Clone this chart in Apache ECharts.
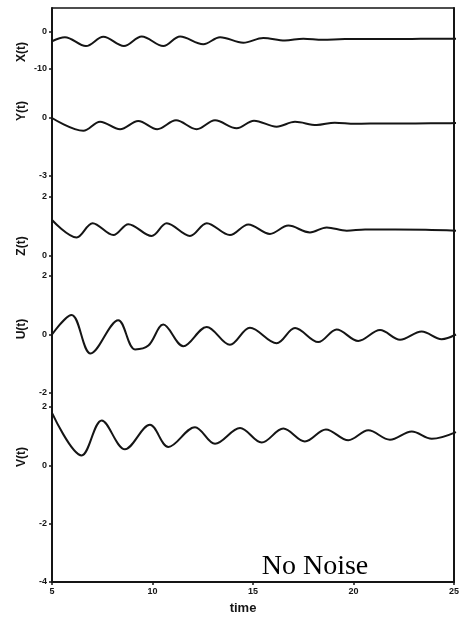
<!DOCTYPE html>
<html>
<head>
<meta charset="utf-8">
<script src="https://cdn.jsdelivr.net/npm/echarts@6/dist/echarts.min.js"></script>
<style>
  html, body { margin: 0; padding: 0; background: #fff; }
  #main { width: 462px; height: 619px; }
</style>
</head>
<body>
<div id="main"></div>
<script>
// time samples and values (peaks, troughs, tails)
var tX = [5, 5.64, 6.68, 7.54, 8.56, 9.44, 10.51, 11.34, 12.49, 13.32, 14.47, 15.46, 16.53, 17.44, 18.4, 19.5, 21, 22.5, 24, 25];
var vX = [-2.5, -1.4, -3.8, -1.3, -3.8, -1.2, -3.8, -1.2, -3.3, -1.4, -2.9, -1.6, -2.3, -1.8, -2.1, -1.9, -1.9, -1.9, -1.8, -1.8];

var tY = [5, 6.55, 7.38, 8.37, 9.27, 10.21, 11.14, 12.16, 13.07, 14.14, 15.0, 16.12, 17.03, 18.1, 19.0, 20, 21.5, 23, 24.5, 25];
var vY = [0, -0.66, -0.19, -0.58, -0.16, -0.58, -0.12, -0.58, -0.12, -0.53, -0.14, -0.45, -0.2, -0.36, -0.24, -0.3, -0.28, -0.28, -0.27, -0.26];

var tZ = [5, 6.22, 7.01, 8.04, 8.78, 9.93, 10.68, 11.83, 12.66, 13.81, 14.72, 15.79, 16.7, 17.77, 18.6, 19.59, 20.5, 22, 23.5, 25];
var vZ = [1.22, 0.63, 1.11, 0.71, 1.08, 0.68, 1.11, 0.68, 1.11, 0.71, 1.07, 0.75, 1.03, 0.8, 0.97, 0.86, 0.9, 0.9, 0.89, 0.86];

var tU = [5, 5.97, 6.91, 8.28, 9.11, 9.77, 10.51, 11.5, 12.66, 13.81, 14.8, 16.12, 17.03, 18.18, 19.09, 20.16, 21.24, 22.23, 23.3, 24.29, 25];
var vU = [0, 0.67, -0.65, 0.49, -0.51, -0.38, 0.34, -0.4, 0.26, -0.35, 0.23, -0.3, 0.22, -0.26, 0.17, -0.22, 0.15, -0.18, 0.1, -0.16, 0];

var tV = [5, 6.47, 7.46, 8.61, 9.85, 10.76, 12.08, 13.07, 14.31, 15.38, 16.45, 17.52, 18.56, 19.67, 20.66, 21.73, 22.81, 23.8, 25];
var vV = [1.8, 0.34, 1.54, 0.55, 1.39, 0.63, 1.31, 0.74, 1.28, 0.78, 1.26, 0.82, 1.23, 0.86, 1.2, 0.88, 1.16, 0.91, 1.14];

var panelNames = ['X(t)', 'Y(t)', 'Z(t)', 'U(t)', 'V(t)'];
var timeTicks = [5, 10, 15, 20, 25];

var ink = '#151515';
var chart = echarts.init(document.getElementById('main'));

function pairs(t, v) {
    return t.map(function (x, i) { return [x, v[i]]; });
}

// panel layout: [top, height, min, max, interval]
var panels = [
    [32, 37, -10, 0, 10],
    [118, 58, -3, 0, 3],
    [197, 59, 0, 2, 2],
    [276, 117, -2, 2, 2],
    [407, 175, -4, 2, 2]
];
var seriesData = [pairs(tX, vX), pairs(tY, vY), pairs(tZ, vZ), pairs(tU, vU), pairs(tV, vV)];
var labelY = [52, 111, 246, 329, 457];

var grids = [{ left: 52, right: 6, top: 8, bottom: 37 }];
var xAxes = [{
    gridIndex: 0, type: 'value', min: timeTicks[0], max: timeTicks[timeTicks.length - 1], interval: 5, position: 'bottom',
    axisLine: { show: true, onZero: false, lineStyle: { color: ink, width: 2 } },
    axisTick: { show: true, length: 3, lineStyle: { color: ink, width: 1.5 } },
    axisLabel: { fontSize: 9, fontWeight: 'bold', color: ink, margin: 5, fontFamily: 'Liberation Sans' },
    splitLine: { show: false }
}, {
    gridIndex: 0, type: 'value', min: 5, max: 25, position: 'top',
    axisLine: { show: true, onZero: false, lineStyle: { color: ink, width: 1.5 } },
    axisTick: { show: false }, axisLabel: { show: false }, splitLine: { show: false }
}];
var yAxes = [{
    gridIndex: 0, type: 'value', min: 0, max: 1, position: 'left',
    axisLine: { show: true, onZero: false, lineStyle: { color: ink, width: 2 } },
    axisTick: { show: false }, axisLabel: { show: false }, splitLine: { show: false }
}, {
    gridIndex: 0, type: 'value', min: 0, max: 1, position: 'right',
    axisLine: { show: true, onZero: false, lineStyle: { color: ink, width: 2 } },
    axisTick: { show: false }, axisLabel: { show: false }, splitLine: { show: false }
}];
var series = [];
var graphics = [];

panels.forEach(function (p, i) {
    var gi = i + 1;
    grids.push({ left: 52, right: 6, top: p[0], height: p[1] });
    xAxes.push({ gridIndex: gi, type: 'value', min: 5, max: 25, show: false });
    yAxes.push({
        gridIndex: gi, type: 'value', min: p[2], max: p[3], interval: p[4],
        axisLine: { show: false },
        axisTick: { show: true, length: 3, lineStyle: { color: ink, width: 1.5 } },
        axisLabel: { fontSize: 9, fontWeight: 'bold', color: ink, margin: 5, fontFamily: 'Liberation Sans' },
        splitLine: { show: false }
    });
    series.push({
        type: 'line',
        xAxisIndex: gi + 1,
        yAxisIndex: gi + 1,
        data: seriesData[i],
        showSymbol: false,
        smooth: 0.35,
        clip: false,
        lineStyle: { color: ink, width: 2 }
    });
    graphics.push({
        type: 'text', x: 22, y: labelY[i], rotation: Math.PI / 2,
        style: {
            text: panelNames[i], font: 'bold 12px "Liberation Sans"', fill: ink,
            textAlign: 'center', textVerticalAlign: 'middle'
        }
    });
});

graphics.push({
    type: 'text', x: 243, y: 608,
    style: { text: 'time', font: 'bold 13px "Liberation Sans"', fill: ink, textAlign: 'center', textVerticalAlign: 'middle' }
});
graphics.push({
    type: 'text', x: 315, y: 567,
    style: { text: 'No Noise', font: '28px "Liberation Serif"', fill: '#000', textAlign: 'center', textVerticalAlign: 'middle' }
});

var option = {
    animation: false,
    backgroundColor: '#fff',
    grid: grids,
    xAxis: xAxes,
    yAxis: yAxes,
    series: series,
    graphic: graphics
};

option && chart.setOption(option);
</script>
</body>
</html>
